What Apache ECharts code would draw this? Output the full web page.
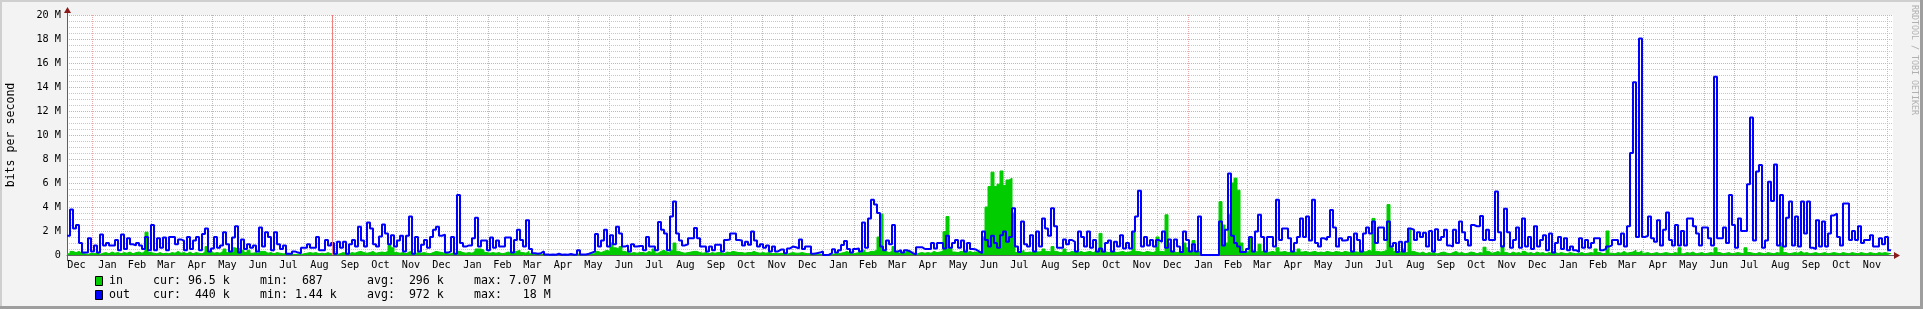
<!DOCTYPE html>
<html><head><meta charset="utf-8">
<script src="https://cdn.jsdelivr.net/npm/echarts@6/dist/echarts.min.js"></script>
<style>html,body{margin:0;padding:0;background:#f3f3f3;overflow:hidden}#c{width:1923px;height:309px}</style>
</head><body><div id="c"></div>
<script>
// ---- time frame (days since START, one value per 3-day step) ----
const START = Date.UTC(2014, 11, 7);
const STEP_DAYS = 3;
const X_MAX = 1826;
const VRULE_DAY = 265.5;
const MONTHS = ['Jan','Feb','Mar','Apr','May','Jun','Jul','Aug','Sep','Oct','Nov','Dec'];
const Y_TICKS = [0,2,4,6,8,10,12,14,16,18,20];

// ---- out (bits/s, in M) ----
const outSeg1 = [1.6,3.8,2.2,2.5,1.0,0.2,0.2,1.4,0.3,0.8,
0.2,1.7,0.8,1.0,0.8,0.8,1.25,0.4,1.7,0.5,
1.4,0.9,0.8,1.0,0.8,0.5,1.5,0.4,2.5,0.4,
1.4,0.6,1.45,0.4,1.5,1.5,0.9,1.3,1.2,0.4,
1.5,0.5,1.2,1.5,0.4,1.75,2.2,0.3,0.55,1.5,
0.6,0.8,1.9,0.9,0.3,1.45,2.4,0.2,1.3,0.5,
0.9,0.6,0.8,0.3,2.3,0.7,1.9,1.5,0.4,1.9,
0.9,0.5,0.8,0.1,0.1,0.3,0.2,0.15,0.6,0.6,
0.9];
const outSeg2 = [0.6,0.6,1.5,0.4,0.4,1.25,0.8,1.0,0.1,1.1,
0.6,1.1,0.1,0.9,1.25,0.7,2.35,1.2,0.7,2.7,
2.2,0.9,0.7,1.55,2.55,1.8,0.9,1.65,0.7,1.2,
1.6,0.3,1.6,3.2,0.1,1.5,0.3,0.85,1.25,0.6,
1.5,2.1,2.35,1.6,1.7,0.2,0.3,1.5,0.1,5.0,
1.0,0.7,0.8,0.8,1.4,3.1,0.7,1.2,1.2,0.4,
1.45,0.6,1.2,0.7,0.7,1.45,1.45,0.2,1.25,2.1,
1.25,0.7,2.9,0.5,0.15,0.1,0.15,0.3,0.05,0.03,
0.05,0.02,0.1,0.02,0.05,0.02,0.08,0.02,0.05,0.4,
0.05,0.05,0.1,0.2,0.3,1.75,0.7,1.2,2.1,0.7,
1.65,0.9,2.35,1.8,0.7,0.8,0.3,0.9,0.7,0.75,
0.75,0.4,1.5,0.7,0.7,0.4,2.75,2.1,1.8,0.4,
3.2,4.45,1.8,1.2,0.8,0.9,1.4,1.4,2.25,1.4,
0.7,0.7,0.3,0.7,0.4,0.85,0.85,0.3,1.25,1.3,
1.8,1.8,1.25,1.2,0.8,1.1,0.85,1.95,1.2,0.7,
0.9,0.6,0.8,0.3,0.7,0.3,0.45,0.45,0.15,0.55,
0.7,0.65,0.55];
const outSeg3 = [1.3,0.5,0.7,0.7,0.1,0.15,0.2,0.3,0.0,0.02,
0.15,0.47,0.2,0.4,0.83,1.17,0.5,0.2,0.5,0.55,
0.3,2.7,0.6,3.05,4.6,4.2,3.5,0.7,0.4,1.2,
0.9,2.5,0.3,0.4,0.2,0.4,0.3];
const outSeg4 = [0.15,0.05,0.65,0.65,0.5,0.5,0.5,1.0,0.55,1.0,
1.0,0.55,1.6,0.6,1.0,1.25,0.6,1.2,0.3,1.0,
0.5,0.45,0.3,0.15,1.95,1.25,0.7,1.6,1.0,0.6,
1.65,1.95,1.1,1.5,3.9,0.7,0.25,2.8,0.9,0.7,
1.65,0.3,1.95,0.7,3.05,2.2,1.6,3.9,2.4,0.6,
0.6,1.3,0.9,1.25,1.1,0.3,1.95,1.5,0.7,1.95,
0.6,1.25,0.3,0.55,0.3,1.0,1.2,0.3,1.1,0.7,
1.65,0.55,1.0,0.55,1.95,3.2,5.35,0.7,1.5,0.8,
1.25,0.7,1.25,1.1,1.95,0.6,1.3,0.3,1.3,0.7,
0.25,1.95,1.25,0.3,0.9,0.3,3.2,0,0,0,
0,0,0,2.8,0.8,2.1,6.8,1.6,1.0,0.7,
0.25,0.25,0.5,1.5,0.3,1.95,3.35,1.5,0.3,1.5,
1.5,0.7,4.6,1.25,2.2,2.2,1.4,0.3,1.0,1.5,
3.05,1.5,3.2,1.2,4.6,1.0,0.7,1.4,1.25,1.5,
3.75,2.3,0.7,1.4,1.2,1.25,1.5,0.3,1.8,1.25,
0.3,1.8,2.3,1.8,2.8,1.0,2.3,2.3,1.25,2.8,
0.7,1.0,0.25];
const outSeg5 = [1.1,0.3,1.1,2.2,2.1,1.25,1.9,1.5,1.85,0.7,
2.0,0.3,2.15,1.25,1.5,2.1,0.8,0.7,2.1,1.0,
2.8,1.9,1.25,0.8,2.5,2.4,2.4,3.25,1.25,2.1,
1.25,1.25,5.3,1.9,0.7,3.85,1.9,0.6,1.25,2.3,
0.6,3.05,0.7,1.5,0.5,2.4,0.7,1.25,1.65,0.4,
1.8,0.2,1.0,1.5];
const outSeg6 = [0.5,1.4,0.4,0.7,0.4,0.25,1.4,0.6,1.25,0.6,
1.0,1.4,1.4,0.4,0.5,0.7,0.8,1.25,1.25,0.9,
1.8,0.7,2.4,8.5,14.4,1.5,18.05,1.5,1.6,3.2,
1.4,1.1,2.9,0.8,2.1,3.55,1.25,0.8,2.5,0.8,
2.0,0.8,3.05,3.05,2.4,1.8,0.8,2.3,2.3,1.4,
0.8,14.85,1.4,1.4,2.3,1.0,5.0,2.5,0.6,3.05,
2.0,2.0,5.9,11.45,1.2,6.95,7.5,0.6,1.2,6.1,
4.5,7.55,0.8,5.0,0.7,3.1,4.45,0.8,3.2,0.7,
4.45,1.8,4.45,0.6,0.5,2.9,0.7,2.8,0.7,1.8,
3.3,3.45,1.5,0.8,4.3,4.3,1.25,2.0,1.25,2.4,
1.0,1.25,1.25,1.65,0.7,0.7,1.4,0.9,1.5,0.4];

// ---- in (bits/s, in M) ----
const inSeg1 = [0.1,0.3,0.2,0.3,0.15,0.1,0.05,0.15,0.1,0.2,
0.05,0.15,0.2,0.1,0.25,0.15,0.2,0.1,0.2,0.15,
0.25,0.1,0.2,0.25,0.15,0.3,1.9,0.2,0.15,0.1,
0.2,0.1,0.15,0.1,0.2,0.15,0.3,0.15,0.2,0.1,
0.25,0.1,0.2,0.15,0.1,0.25,0.7,0.3,0.15,0.2,
0.15,0.3,0.5,0.2,0.3,0.6,0.5,0.6,0.4,0.2,
0.4,0.15,0.2,0.1,0.3,0.3,0.15,0.2,0.1,0.2,
0.15,0.1,0.1,0.05,0.05,0.05,0.05,0.05,0.1,0.15,
0.2];
const inSeg2 = [0.15,0.2,0.1,0.15,0.1,0.2,0.1,0.15,0.05,0.1,
0.2,0.15,0.1,0.2,0.15,0.25,0.3,0.2,0.15,0.2,
0.3,0.15,0.2,0.25,0.2,0.3,0.8,0.6,0.2,0.15,
0.2,0.1,0.25,0.3,0.1,0.2,0.15,0.2,0.15,0.1,
0.2,0.3,0.25,0.2,0.15,0.1,0.1,0.2,0.05,0.3,
0.2,0.15,0.2,0.15,0.3,0.5,0.5,0.4,0.2,0.15,
0.2,0.15,0.2,0.1,0.15,0.25,0.2,0.1,0.3,0.4,
0.2,0.15,0.3,0.1,0.05,0.05,0.03,0.05,0.02,0.02,
0.02,0.02,0.03,0.02,0.02,0.02,0.03,0.02,0.02,0.05,
0.02,0.03,0.05,0.1,0.1,0.3,0.2,0.3,0.4,0.3,
1.0,0.6,0.5,0.7,0.3,0.2,0.15,0.2,0.15,0.2,
0.2,0.15,0.3,0.2,0.5,0.15,0.3,0.4,0.25,0.15,
0.4,1.0,0.3,0.2,0.15,0.2,0.25,0.3,0.3,0.2,
0.15,0.2,0.1,0.2,0.15,0.2,0.2,0.1,0.25,0.2,
0.3,0.25,0.2,0.2,0.15,0.2,0.2,0.3,0.2,0.15,
0.2,0.15,0.2,0.1,0.15,0.1,0.15,0.1,0.05,0.15,
0.2,0.15,0.15];
const inSeg3 = [0.2,0.15,0.1,0.15,0.05,0.05,0.05,0.05,0.0,0.02,
0.05,0.1,0.1,0.15,0.2,0.3,0.15,0.1,0.15,0.2,
0.15,0.4,0.2,0.3,0.3,0.4,1.5,3.4,0.3,0.2,
0.3,0.7,0.2,0.15,0.2,0.3,0.4];
const inSeg4 = [0.1,0.05,0.15,0.2,0.15,0.2,0.15,0.3,0.2,0.25,
0.3,1.95,3.2,0.6,0.25,0.2,0.3,0.25,0.2,0.3,
0.2,0.25,0.2,0.3,1.5,4.0,5.7,6.9,5.7,5.9,
7.0,5.8,6.25,6.4,3.5,0.2,0.25,0.4,0.2,0.25,
0.2,0.3,0.25,0.3,0.5,0.3,0.25,0.7,0.3,0.2,
0.25,0.5,0.2,0.3,0.25,0.2,0.3,0.2,0.25,0.3,
0.2,0.3,0.25,1.8,0.3,0.2,0.25,0.3,0.2,0.25,
0.3,0.2,0.25,0.3,1.95,0.3,0.25,0.2,0.3,0.25,
0.2,0.3,1.5,0.3,0.25,3.35,1.0,0.3,0.2,0.25,
0.3,1.0,0.6,0.2,1.2,0.3,0.3,0,0,0,
0,0,0,4.45,2.5,1.0,3.35,6.0,6.4,5.4,
1.0,0.3,0.25,1.5,0.3,0.25,0.9,0.3,0.2,0.25,
0.3,0.2,0.6,0.25,0.3,0.2,0.25,0.3,0.2,0.5,
0.25,0.3,0.2,0.25,0.3,0.2,0.25,0.2,0.3,0.25,
0.2,0.3,0.25,0.2,0.3,0.25,0.2,0.3,0.25,0.2,
0.3,0.25,0.4,0.3,3.05,0.3,0.25,0.3,0.4,4.2,
0.6,0.3,0.2];
const inSeg5 = [0.3,0.5,0.2,2.15,0.3,0.2,0.15,0.25,0.1,0.2,
0.15,0.3,0.1,0.2,0.25,0.15,0.1,0.2,0.3,0.15,
0.2,0.1,0.15,0.25,0.2,0.1,0.2,0.15,0.65,0.3,
0.15,0.2,0.3,0.15,0.75,0.2,0.1,0.25,0.15,0.2,
0.1,0.3,0.15,0.2,0.1,0.25,0.15,0.2,0.1,0.2,
0.15,0.25,0.1,0.2];
const inSeg6 = [0.15,0.1,0.2,0.15,0.1,0.15,0.2,0.1,0.15,0.2,
0.15,0.5,0.2,0.1,0.15,2.0,0.15,0.1,0.2,0.15,
0.3,0.15,0.2,0.25,0.4,0.2,0.35,0.15,0.2,0.1,
0.15,0.2,0.1,0.15,0.2,0.15,0.1,0.2,0.15,0.6,
0.1,0.2,0.15,0.25,0.1,0.15,0.2,0.1,0.15,0.2,
0.15,0.6,0.2,0.1,0.15,0.2,0.1,0.15,0.2,0.15,
0.1,0.6,0.2,0.15,0.1,0.2,0.15,0.1,0.2,0.15,
0.1,0.2,0.15,1.0,0.2,0.1,0.15,0.2,0.15,0.3,
0.15,0.2,0.1,0.15,0.2,0.1,0.15,0.2,0.1,0.15,
0.2,0.15,0.1,0.2,0.15,0.1,0.2,0.15,0.1,0.2,
0.15,0.1,0.2,0.15,0.1,0.2,0.15,0.2,0.15,0.1];

// ---- legend texts ----
const legendNames = ['in', 'out'];
const legendColors = ['#00cc00', '#0000ff'];
const legendCur = ['96.5 k', ' 440 k'];
const legendMin = [' 687', '1.44 k'];
const legendAvg = [' 296 k', ' 972 k'];
const legendMax = ['7.07 M', '  18 M'];

const outBits = [].concat(outSeg1, outSeg2, outSeg3, outSeg4, outSeg5, outSeg6);
const inBits = [].concat(inSeg1, inSeg2, inSeg3, inSeg4, inSeg5, inSeg6);

function toPoints(arr) {
  const pts = arr.map((v, i) => [i * STEP_DAYS, v]);
  pts.push([arr.length * STEP_DAYS, arr[arr.length - 1]]);
  return pts;
}

const DAY = 86400000;
const monthStarts = [], yearStarts = [], monthMids = [];
for (let y = 2014; y <= 2020; y++) {
  for (let m = 0; m < 12; m++) {
    const d = (Date.UTC(y, m, 1) - START) / DAY;
    const n = (Date.UTC(y, m + 1, 1) - START) / DAY;
    const mid = (d + n) / 2;
    if (d > 0 && d < X_MAX) { if (m === 0) yearStarts.push(d); else monthStarts.push(d); }
    if (mid >= 0 && mid <= X_MAX) monthMids.push(mid);
  }
}
function monthName(v) { return MONTHS[new Date(START + v * DAY).getUTCMonth()]; }

const MONO = '"DejaVu Sans Mono", monospace';
const graphics = [
  {type:'rect', shape:{x:0,y:0,width:1923,height:2}, style:{fill:'#cfcfcf'}, silent:true},
  {type:'rect', shape:{x:0,y:0,width:2,height:309}, style:{fill:'#cfcfcf'}, silent:true},
  {type:'rect', shape:{x:0,y:306,width:1923,height:3}, style:{fill:'#9e9e9e'}, silent:true},
  {type:'rect', shape:{x:1920,y:0,width:3,height:309}, style:{fill:'#9e9e9e'}, silent:true},
  {type:'line', shape:{x1:67.5,y1:10,x2:67.5,y2:15}, style:{stroke:'#606060',lineWidth:1}, silent:true},
  {type:'line', shape:{x1:67.5,y1:255,x2:67.5,y2:261}, style:{stroke:'#606060',lineWidth:1}, silent:true},
  {type:'line', shape:{x1:1893,y1:255.5,x2:1896,y2:255.5}, style:{stroke:'#606060',lineWidth:1}, silent:true},
  {type:'polygon', shape:{points:[[64,13],[71,13],[67.5,7]]}, style:{fill:'#8b1a1a'}, silent:true},
  {type:'polygon', shape:{points:[[1894,252],[1894,259],[1900,255.5]]}, style:{fill:'#8b1a1a'}, silent:true},
  {type:'text', x:11, y:135, rotation:Math.PI/2,
   style:{text:'bits per second', font:'11.6px ' + MONO, fill:'#000', align:'center', verticalAlign:'middle', textAlign:'center', textVerticalAlign:'middle'}, silent:true},
  {type:'text', x:1914, y:5, rotation:-Math.PI/2,
   style:{text:'RRDTOOL / TOBI OETIKER', font:'8.3px ' + MONO, fill:'#b0b0b0', align:'left', verticalAlign:'middle', textAlign:'left', textVerticalAlign:'middle'}, silent:true}
];
const rowY = [281, 295];
legendNames.forEach((nm, i) => {
  const y = rowY[i];
  graphics.push({type:'rect', shape:{x:95.5,y:y-4.5,width:7,height:9}, style:{fill:legendColors[i], stroke:'#000', lineWidth:1}, silent:true});
  const cols = [[109, nm], [153, 'cur: ' + legendCur[i]], [260, 'min: ' + legendMin[i]], [367, 'avg: ' + legendAvg[i]], [474, 'max: ' + legendMax[i]]];
  cols.forEach(c => graphics.push({type:'text', x:c[0], y:y,
    style:{text:c[1], font:'11.6px ' + MONO, fill:'#000', align:'left', verticalAlign:'middle', textAlign:'left', textVerticalAlign:'middle'}, silent:true}));
});

const chart = echarts.init(document.getElementById('c'), null, {renderer:'canvas'});
chart.setOption({
  animation: false,
  backgroundColor: '#f3f3f3',
  grid: {left:67, right:30, top:15, bottom:54, show:true, backgroundColor:'#ffffff', borderWidth:0, containLabel:false},
  xAxis: [{
    type:'value', min:0, max:X_MAX,
    axisLine:{show:true, onZero:false, lineStyle:{color:'#606060', width:1}},
    axisTick:{show:false, customValues:monthStarts},
    axisLabel:{customValues:monthMids, formatter:monthName, margin:5, color:'#000', fontFamily:MONO, fontSize:10.2},
    splitLine:{show:true, lineStyle:{color:'#bcbcbc', width:1, type:[1,1]}}
  }, {
    type:'value', min:0, max:X_MAX, position:'bottom',
    axisLine:{show:false}, axisLabel:{show:false},
    axisTick:{show:false, customValues:yearStarts},
    splitLine:{show:true, lineStyle:{color:'#e8a8a8', width:1, type:[1,1]}}
  }],
  yAxis: {
    type:'value', min:0, max:20, interval:2,
    axisLine:{show:true, lineStyle:{color:'#606060', width:1}},
    axisTick:{show:false},
    axisLabel:{margin:6, color:'#000', fontFamily:MONO, fontSize:10.2,
      formatter: v => (v === 0 ? '0' : v + ' M')},
    splitLine:{show:true, lineStyle:{color:'#e8a8a8', width:1, type:[1,1]}},
    minorTick:{show:false, splitNumber:4},
    minorSplitLine:{show:true, lineStyle:{color:'#c8c8c8', width:1, type:[1,1]}}
  },
  series: [{
    type:'line', name:'in', data:toPoints(inBits), step:'end', symbol:'none', silent:true,
    lineStyle:{width:1, color:'#00cc00'}, itemStyle:{color:'#00cc00'},
    areaStyle:{color:'#00cc00', opacity:1}, z:2
  }, {
    type:'line', name:'out', data:toPoints(outBits), step:'end', symbol:'none', silent:true,
    lineStyle:{width:2, color:'#0000ff'}, itemStyle:{color:'#0000ff'}, z:3,
    markLine:{silent:true, symbol:['none','none'], label:{show:false},
      lineStyle:{color:'#f08080', width:1, type:'solid'}, data:[{xAxis:VRULE_DAY}]}
  }],
  graphic: graphics
});
</script></body></html>
